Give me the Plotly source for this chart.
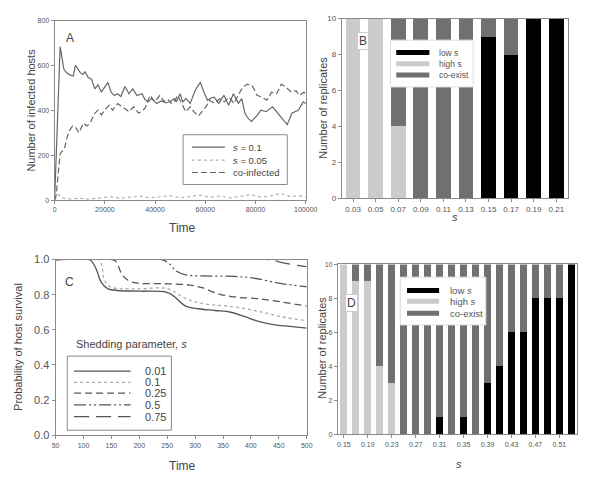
import plotly.graph_objects as go

# ---------------- Panel A data ----------------
a_t_s01 = [0, 2200, 3700, 5000, 6300, 7400, 8300, 9300, 10200, 11200, 12100, 13400, 14700, 16000,
           17300, 18600, 19900, 21200, 22500, 23800, 25000, 26400, 28000, 29600, 31100, 32800,
           34800, 36000, 37300, 38600, 40600, 42500, 44400, 46400, 47700, 48500, 50000, 51000,
           52300, 54000, 56000, 58000, 59500, 60900, 62300, 63500, 65400, 67400, 69300, 71200,
           73200, 74500, 75800, 77000, 78400, 80300, 82200, 84200, 86800, 88000, 89300, 91300,
           92600, 94500, 97100, 99000, 100000]
a_v_s01 = [0, 684, 583, 565, 557, 553, 601, 580, 568, 560, 572, 546, 539, 496,
           514, 481, 506, 525, 481, 466, 474, 462, 506, 474, 496, 466,
           474, 448, 438, 452, 430, 442, 433, 442, 452, 438, 474, 438,
           453, 431, 490, 525, 480, 445, 455, 459, 431, 467, 423, 474,
           431, 452, 387, 365, 351, 373, 401, 394, 416, 400, 380, 358,
           336, 387, 401, 438, 430]

a_t_s005 = [0, 1500, 3000, 6000, 10000, 14000, 18000, 22000, 26000, 30000, 34000, 38000, 42000,
            46000, 50000, 54000, 58000, 62000, 66000, 70000, 74000, 78000, 82000, 86000, 90000,
            94000, 98000, 100000]
a_v_s005 = [0, 25, 10, 5, 8, 4, 10, 15, 8, 12, 18, 10, 14,
            20, 10, 15, 22, 12, 18, 10, 16, 24, 14, 18, 30,
            15, 20, 12]

a_t_co = [0, 600, 2200, 3900, 5000, 5800, 7100, 8400, 9700, 11500, 12900, 14100, 16000, 17300,
          18600, 19900, 21800, 23100, 25100, 27600, 29600, 31500, 33500, 36000, 38000, 39900,
          41900, 43500, 45000, 46500, 47700, 49000, 50500, 52200, 54100, 55400, 57300, 59200,
          60500, 61800, 63700, 65700, 67600, 69500, 71400, 73400, 74800, 76700, 78700, 80600,
          82500, 84500, 86400, 88400, 90300, 92200, 94200, 96100, 97400, 99300, 100000]
a_v_co = [0, 20, 207, 229, 280, 308, 330, 323, 300, 343, 330, 343, 387, 401,
          380, 401, 423, 401, 430, 409, 394, 416, 387, 409, 467, 438,
          467, 440, 450, 430, 438, 467, 430, 394, 416, 394, 375, 401,
          420, 445, 431, 452, 438, 459, 431, 474, 501, 517, 510, 467,
          459, 445, 481, 474, 517, 503, 481, 488, 467, 481, 470]
a_names = ["<i>s</i> = 0.1", "<i>s</i> = 0.05", "co-infected"]

# ---------------- Panel B data ----------------
b_s = ["0.03", "0.05", "0.07", "0.09", "0.11", "0.13", "0.15", "0.17", "0.19", "0.21"]
b_low = [0, 0, 0, 0, 0, 0, 9, 8, 10, 10]
b_high = [10, 10, 4, 0, 0, 0, 0, 0, 0, 0]
b_coexist = [0, 0, 6, 10, 10, 10, 1, 2, 0, 0]
b_names = ["low s", "high s", "co-exist"]

# ---------------- Panel C data ----------------
c_t_001 = [50, 110, 115, 123, 132, 144, 161, 200, 248, 260, 283, 306, 335, 364, 388, 417, 446, 470, 500]
c_v_001 = [1, 1, 0.99, 0.944, 0.87, 0.833, 0.824, 0.82, 0.815, 0.796, 0.735, 0.72, 0.71, 0.70, 0.676, 0.645, 0.627, 0.62, 0.61]
c_t_01 = [50, 128, 133, 138, 149, 170, 200, 250, 283, 312, 370, 415, 452, 500]
c_v_01 = [1, 1, 0.96, 0.88, 0.843, 0.835, 0.833, 0.835, 0.778, 0.75, 0.731, 0.704, 0.676, 0.652]
c_t_025 = [50, 150, 158, 170, 184, 200, 250, 290, 312, 341, 370, 411, 452, 500]
c_v_025 = [1, 1, 0.99, 0.91, 0.875, 0.865, 0.862, 0.855, 0.84, 0.806, 0.787, 0.778, 0.76, 0.735]
c_t_05 = [50, 240, 254, 266, 283, 312, 370, 405, 452, 500]
c_v_05 = [1, 1, 0.975, 0.935, 0.913, 0.907, 0.904, 0.894, 0.865, 0.845]
c_t_075 = [50, 430, 458, 492, 500]
c_v_075 = [1, 1, 0.981, 0.963, 0.96]
c_names = ["0.01", "0.1", "0.25", "0.5", "0.75"]

# ---------------- Panel D data ----------------
d_s = ["0.15", "0.17", "0.19", "0.21", "0.23", "0.25", "0.27", "0.29", "0.31", "0.33",
       "0.35", "0.37", "0.39", "0.41", "0.43", "0.45", "0.47", "0.49", "0.51", "0.53"]
d_low = [0, 0, 0, 0, 0, 0, 0, 0, 1, 0, 1, 0, 3, 4, 6, 6, 8, 8, 8, 10]
d_high = [10, 9, 9, 4, 3, 0, 0, 0, 0, 0, 0, 0, 0, 0, 0, 0, 0, 0, 0, 0]
d_coexist = [0, 1, 1, 6, 7, 10, 10, 10, 9, 10, 9, 10, 7, 6, 4, 4, 2, 2, 2, 0]
d_names = ["low <i>s</i>", "high <i>s</i>", "co-exist"]

W, H = 601, 486
def PX(x): return x / W
def PY(y): return 1 - y / H

FONT = "Liberation Sans, Arial, sans-serif"
LINE = "#555555"
AXC = "#8a8a8a"
TXT = "#555555"
BLACK, LIGHT, DARK = "#000000", "#cbcbcb", "#707070"

fig = go.Figure()

# Panel A
a_styles = [dict(color="#666666", width=1.2),
            dict(color="#b0b0b0", width=1.2, dash="dot"),
            dict(color="#666666", width=1.2, dash="6px,3px")]
for tx, vy, nm, ln in zip([a_t_s01, a_t_s005, a_t_co], [a_v_s01, a_v_s005, a_v_co], a_names, a_styles):
    fig.add_trace(go.Scatter(x=tx, y=vy, mode="lines", name=nm, line=ln,
                             xaxis="x", yaxis="y", showlegend=False))

# Panel B bars
bar_cols = [BLACK, LIGHT, DARK]
for vals, col, nm in zip([b_low, b_high, b_coexist], bar_cols, b_names):
    fig.add_trace(go.Bar(x=b_s, y=vals, marker=dict(color=col, line=dict(width=0)), width=0.65,
                         xaxis="x2", yaxis="y2", showlegend=False, name=nm))

# Panel C
c_styles = [dict(color=LINE, width=1.3),
            dict(color="#aaaaaa", width=1.3, dash="dot"),
            dict(color=LINE, width=1.3, dash="7px,4px"),
            dict(color=LINE, width=1.3, dash="12px,3px,2px,3px,2px,3px"),
            dict(color=LINE, width=1.3, dash="15px,7px")]
for tx, vy, nm, ln in zip([c_t_001, c_t_01, c_t_025, c_t_05, c_t_075],
                          [c_v_001, c_v_01, c_v_025, c_v_05, c_v_075], c_names, c_styles):
    fig.add_trace(go.Scatter(x=tx, y=vy, mode="lines", name=nm, line=ln, line_shape="spline",
                             xaxis="x3", yaxis="y3", showlegend=False))

# Panel D bars
for vals, col, nm in zip([d_low, d_high, d_coexist], bar_cols, d_names):
    fig.add_trace(go.Bar(x=d_s, y=vals, marker=dict(color=col, line=dict(width=0)), width=0.6,
                         xaxis="x4", yaxis="y4", showlegend=False, name=nm))

def ax(domain, **kw):
    d = dict(domain=domain, showline=True, mirror=True, linecolor=AXC, linewidth=1,
             ticks="outside", ticklen=3, tickcolor=AXC, showgrid=False, zeroline=False,
             tickfont=dict(size=7, color=TXT, family=FONT))
    d.update(kw)
    return d

fig.update_layout(
    width=W, height=H, autosize=False,
    margin=dict(l=0, r=0, t=0, b=0),
    paper_bgcolor="white", plot_bgcolor="white",
    font=dict(family=FONT, color="#444444"),
    barmode="stack", showlegend=False,
    xaxis=ax([PX(52), PX(310)], anchor="y", range=[0, 100000], tickformat="d",
             tickvals=[0, 20000, 40000, 60000, 80000, 100000]),
    yaxis=ax([PY(199), PY(15)], anchor="x", range=[0, 800], tickvals=[0, 200, 400, 600, 800]),
    xaxis2=ax([PX(347), PX(579)], anchor="y2", type="category", range=[-0.5, 9.5],
              tickfont=dict(size=8, color=TXT, family=FONT)),
    yaxis2=ax([PY(197), PY(13)], anchor="x2", range=[0, 10], tickvals=[0, 2, 4, 6, 8, 10],
              tickfont=dict(size=8, color=TXT, family=FONT)),
    xaxis3=ax([PX(53), PX(311)], anchor="y3", range=[50, 500],
              tickvals=[50, 100, 150, 200, 250, 300, 350, 400, 450, 500]),
    yaxis3=ax([PY(440), PY(260)], anchor="x3", range=[0, 1], tickvals=[0, 0.2, 0.4, 0.6, 0.8, 1.0],
              tickformat=".1f", tickfont=dict(size=11, color=TXT, family=FONT)),
    xaxis4=ax([PX(343), PX(589)], anchor="y4", type="category", range=[-0.5, 19.5],
              tickvals=d_s[::2], ticktext=d_s[::2]),
    yaxis4=ax([PY(439), PY(265)], anchor="x4", range=[0, 10], tickvals=[0, 2, 4, 6, 8, 10]),
)

ann = []
shapes = []
def A(x, y, text, size=11, angle=0, color="#444444", **kw):
    d = dict(x=PX(x), y=PY(y), xref="paper", yref="paper", text=text, showarrow=False,
             font=dict(size=size, color=color, family=FONT), textangle=angle,
             xanchor="center", yanchor="middle")
    d.update(kw)
    ann.append(d)

def box(x0, y0, x1, y1, color):
    shapes.append(dict(type="rect", xref="paper", yref="paper", x0=PX(x0), x1=PX(x1),
                       y0=PY(y1), y1=PY(y0), line=dict(color=color, width=1), fillcolor="white"))

def sample(x0, x1, y, line):
    shapes.append(dict(type="line", xref="paper", yref="paper", x0=PX(x0), x1=PX(x1),
                       y0=PY(y), y1=PY(y), line=line))

# Legend A
box(184, 132, 291, 183, AXC)
for yy, nm, ln in zip([144.7, 158, 170.7], a_names, a_styles):
    sample(193, 227, yy, ln)
    A(233, yy, nm, 9.5, xanchor="left")

# Legend B
box(397, 35, 482, 83, "#e0e0e0")
for yy, nm, col in zip([47.7, 59.3, 70.7], b_names, bar_cols):
    sample(403, 437, yy, dict(color=col, width=5))
    A(445, yy, nm, 8.5, color="#555555", xanchor="left")

# Legend C
A(72, 347, "Shedding parameter, <i>s</i>", 11, xanchor="left")
box(65, 359, 172, 435, AXC)
for yy, nm, ln in zip([374.3, 386, 397, 409, 421], c_names, c_styles):
    sample(72, 130, yy, ln)
    A(143, yy, nm, 11, xanchor="left")

# Legend D
box(407, 278, 495, 327, "#e0e0e0")
for yy, nm, col in zip([291.7, 302.7, 315], d_names, bar_cols):
    sample(414, 447, yy, dict(color=col, width=5))
    A(456, yy, nm, 9.5, color="#555555", xanchor="left")

# Axis titles and panel letters
A(28, 107, "Number of infected hosts", 11, -90)
A(183, 228, "Time", 12)
A(328, 104, "Number of replicates", 11, -90)
A(463, 216, "<i>s</i>", 11)
A(15, 350, "Probability of host survival", 11, -90)
A(183, 472, "Time", 12)
A(327, 350, "Number of replicates", 11, -90)
A(467, 470, "<i>s</i>", 11)
A(68, 33, "A", 12)
A(368.5, 35.5, "B", 12, bordercolor="#cccccc", borderwidth=1, bgcolor="white", borderpad=1)
A(67, 283, "C", 12)
A(357.5, 305, "D", 12, bordercolor="#cccccc", borderwidth=1, bgcolor="white", borderpad=1)
fig.update_layout(annotations=ann, shapes=shapes)

fig.write_html("out.html", config={"displayModeBar": False},
               post_script="document.body.style.margin='0px';")
